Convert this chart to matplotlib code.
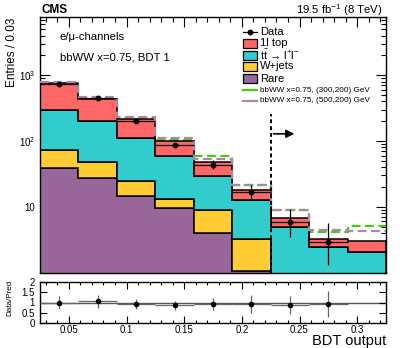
import matplotlib
matplotlib.use("Agg")
import matplotlib.pyplot as plt
import numpy as np
from matplotlib.ticker import MultipleLocator, FixedLocator, FuncFormatter, LogLocator, NullFormatter
from matplotlib.patches import Rectangle
from matplotlib.lines import Line2D

plt.rcParams['font.family'] = ['Liberation Sans', 'DejaVu Sans']
plt.rcParams['mathtext.fontset'] = 'custom'
plt.rcParams['mathtext.rm'] = 'Liberation Sans'
plt.rcParams['mathtext.it'] = 'Liberation Sans:italic'

# ---- data ----
bin_lo = 0.025
bin_w = 1.0 / 30.0
n_bins = 9
rare = [39, 27.1, 14.8, 9.5, 4.04, 1.08, 0, 0, 0]
wjets = [33, 21.5, 10.2, 3.7, 5.06, 2.19, 0, 0, 0]
ttll = [226, 156.4, 86, 46.8, 20.7, 9.33, 5.0, 2.5, 2.05]
top1l = [475, 237, 104, 42, 18.2, 5.7, 1.8, 0.7, 0.95]
sig300 = [0.3, 0.3, 0.3, 0.3, 10.4, 3.5, 2.3, 1.0, 2.1]
sig500 = [30, 20, 15, 9, 5.3, 3.5, 2.3, 1.2, 1.37]
data = [738, 458, 205, 86, 43.7, 16.9, 5.85, 2.91]
data_lo = [27, 21, 14, 8, 6.5, 3.5, 2.4, 1.6]
data_hi = [28, 22, 15, 9, 7.5, 4.5, 3.4, 2.8]
ratio = [1.0, 1.05, 0.93, 0.86, 0.93, 0.93, 0.88, 0.93]
ratio_err = [0.32, 0.32, 0.25, 0.23, 0.28, 0.42, 0.43, 0.65]
cut_x = 0.225

edges = bin_lo + bin_w * np.arange(n_bins + 1)
centers = 0.5 * (edges[:-1] + edges[1:])

c_top = '#ff6666'
c_tt = '#33cccc'
c_wj = '#ffcc33'
c_rare = '#996699'
c_s300 = '#44cc11'
c_s500 = '#aa88aa'

fig = plt.figure(figsize=(4.07, 3.48), dpi=100)
W, H = 407.0, 348.0
ax = fig.add_axes([40 / W, 1 - 272.7 / H, 346 / W, (272.7 - 17.3) / H])
rax = fig.add_axes([40 / W, 1 - 323 / H, 346 / W, (323 - 282) / H])

base = np.zeros(n_bins)
for comp, col in [(rare, c_rare), (wjets, c_wj), (ttll, c_tt), (top1l, c_top)]:
    top = base + np.array(comp, dtype=float)
    b_plot = np.where(base > 0, base, 1e-2)
    t_plot = np.where(top > 0, top, 1e-2)
    ax.stairs(t_plot, edges, baseline=b_plot, fill=True, facecolor=col,
              edgecolor='black', linewidth=1.1, zorder=2)
    base = top
total = base

ax.stairs(total + np.array(sig300), edges, baseline=None, color=c_s300,
          linestyle=(0, (4, 2)), linewidth=1.6, zorder=1.5)
ax.stairs(total + np.array(sig500), edges, baseline=None, color=c_s500,
          linestyle=(0, (4, 2)), linewidth=1.6, zorder=3)

nd = len(data)
ax.errorbar(centers[:nd], data, yerr=[data_lo, data_hi], xerr=bin_w / 2,
            fmt='o', ms=3.2, color='black', elinewidth=0.9, capsize=0, zorder=5)

# cut line + arrow
ax.plot([cut_x, cut_x], [1, 260], color='black', linestyle=(0, (2, 1.5)), linewidth=1.4, zorder=6)
ax.annotate('', xy=(cut_x + 0.023, 129), xytext=(cut_x, 129),
            arrowprops=dict(arrowstyle='-|>', color='black', lw=1.2, mutation_scale=12), zorder=6)

ax.set_yscale('log')
ax.set_xlim(0.025, 0.325)
ax.set_ylim(1, 7600)
ax.xaxis.set_major_locator(MultipleLocator(0.05))
ax.xaxis.set_minor_locator(MultipleLocator(0.01))
ax.yaxis.set_major_locator(FixedLocator([10, 100, 1000]))
ax.yaxis.set_minor_locator(LogLocator(base=10, subs=np.arange(2, 10)))
ax.yaxis.set_minor_formatter(NullFormatter())
ylab = {10: '10', 100: r'$10^{2}$', 1000: r'$10^{3}$'}
ax.yaxis.set_major_formatter(FuncFormatter(lambda v, p: ylab.get(int(round(v)), '')))
ax.tick_params(which='both', direction='in', top=True, right=True, labelbottom=False, labelsize=7)
ax.tick_params(which='major', length=7, width=0.8)
ax.tick_params(which='minor', length=3.5, width=0.8)
for s in ax.spines.values():
    s.set_linewidth(1.0)

# texts
fig.text(42 / W, 1 - 10 / H, 'CMS', fontsize=8.5, fontweight='bold', ha='left', va='center')
fig.text(383 / W, 1 - 10 / H, r'19.5 fb$^{-1}$ (8 TeV)', fontsize=8.2, ha='right', va='center')
fig.text(60 / W, 1 - 37 / H, u'e/\u03bc-channels', fontsize=8.2, ha='left', va='center')
fig.text(60 / W, 1 - 58 / H, 'bbWW x=0.75, BDT 1', fontsize=8.2, ha='left', va='center')
fig.text(12 / W, 1 - 18 / H, 'Entries / 0.03', fontsize=8.5, rotation=90, ha='center', va='top')

# legend (manual)
def fx(px):
    return px / W

def fy(py):
    return 1 - py / H

lx0, lx1, tx = 243, 257, 260
fig.add_artist(Line2D([fx(lx0), fx(lx1)], [fy(32), fy(32)], color='black', lw=0.9))
fig.add_artist(Line2D([fx(250)], [fy(32)], marker='o', ms=3.2, color='black'))
fig.text(fx(tx), fy(32), 'Data', fontsize=8, ha='left', va='center')
for yc, col, lab in [(43, c_top, '1l top'),
                     (55, c_tt, 't$\\bar{\\mathrm{t}}$ \u2192 l$^{+}$l$^{-}$'),
                     (66, c_wj, 'W+jets'),
                     (78.5, c_rare, 'Rare')]:
    fig.add_artist(Rectangle((fx(lx0), fy(yc + 4.5)), (lx1 - lx0) / W, 9 / H,
                             facecolor=col, edgecolor='black', lw=0.9, transform=fig.transFigure))
    fig.text(fx(tx), fy(yc), lab, fontsize=8, ha='left', va='center')
for yc, col, lab in [(90, c_s300, 'bbWW x=0.75, (300,200) GeV'),
                     (101, c_s500, 'bbWW x=0.75, (500,200) GeV')]:
    fig.add_artist(Line2D([fx(lx0), fx(lx1)], [fy(yc), fy(yc)], color=col, lw=1.6))
    fig.text(fx(tx), fy(yc), lab, fontsize=5.9, ha='left', va='center')

# ratio panel
rax.axhline(1.0, color='#555555', lw=1.0, zorder=1)
rax.errorbar(centers[:nd], ratio, yerr=ratio_err, xerr=bin_w / 2, fmt='o', ms=3.0,
             color='black', ecolor='#666666', elinewidth=0.9, capsize=0, zorder=3)
rax.set_xlim(0.025, 0.325)
rax.set_ylim(0, 2)
rax.xaxis.set_major_locator(MultipleLocator(0.05))
rax.xaxis.set_minor_locator(MultipleLocator(0.01))
rax.xaxis.set_major_formatter(FuncFormatter(lambda v, p: '%g' % round(v, 3)))
rax.yaxis.set_major_locator(FixedLocator([0, 0.5, 1, 1.5, 2]))
rax.yaxis.set_major_formatter(FuncFormatter(lambda v, p: '%g' % v))
rax.tick_params(which='both', direction='in', top=True, right=True, labelsize=7)
rax.tick_params(axis='x', labelsize=7.0, pad=1.5)
rax.tick_params(which='major', length=5, width=0.8)
rax.tick_params(which='minor', length=2.5, width=0.8)
for s in rax.spines.values():
    s.set_linewidth(1.0)
fig.text(10 / W, 1 - 298 / H, 'Data/Pred', fontsize=5.8, rotation=90, ha='center', va='center')
fig.text(386 / W, 1 - 345.5 / H, 'BDT output', fontsize=10.5, ha='right', va='baseline')

fig.savefig('out.png', dpi=100)
